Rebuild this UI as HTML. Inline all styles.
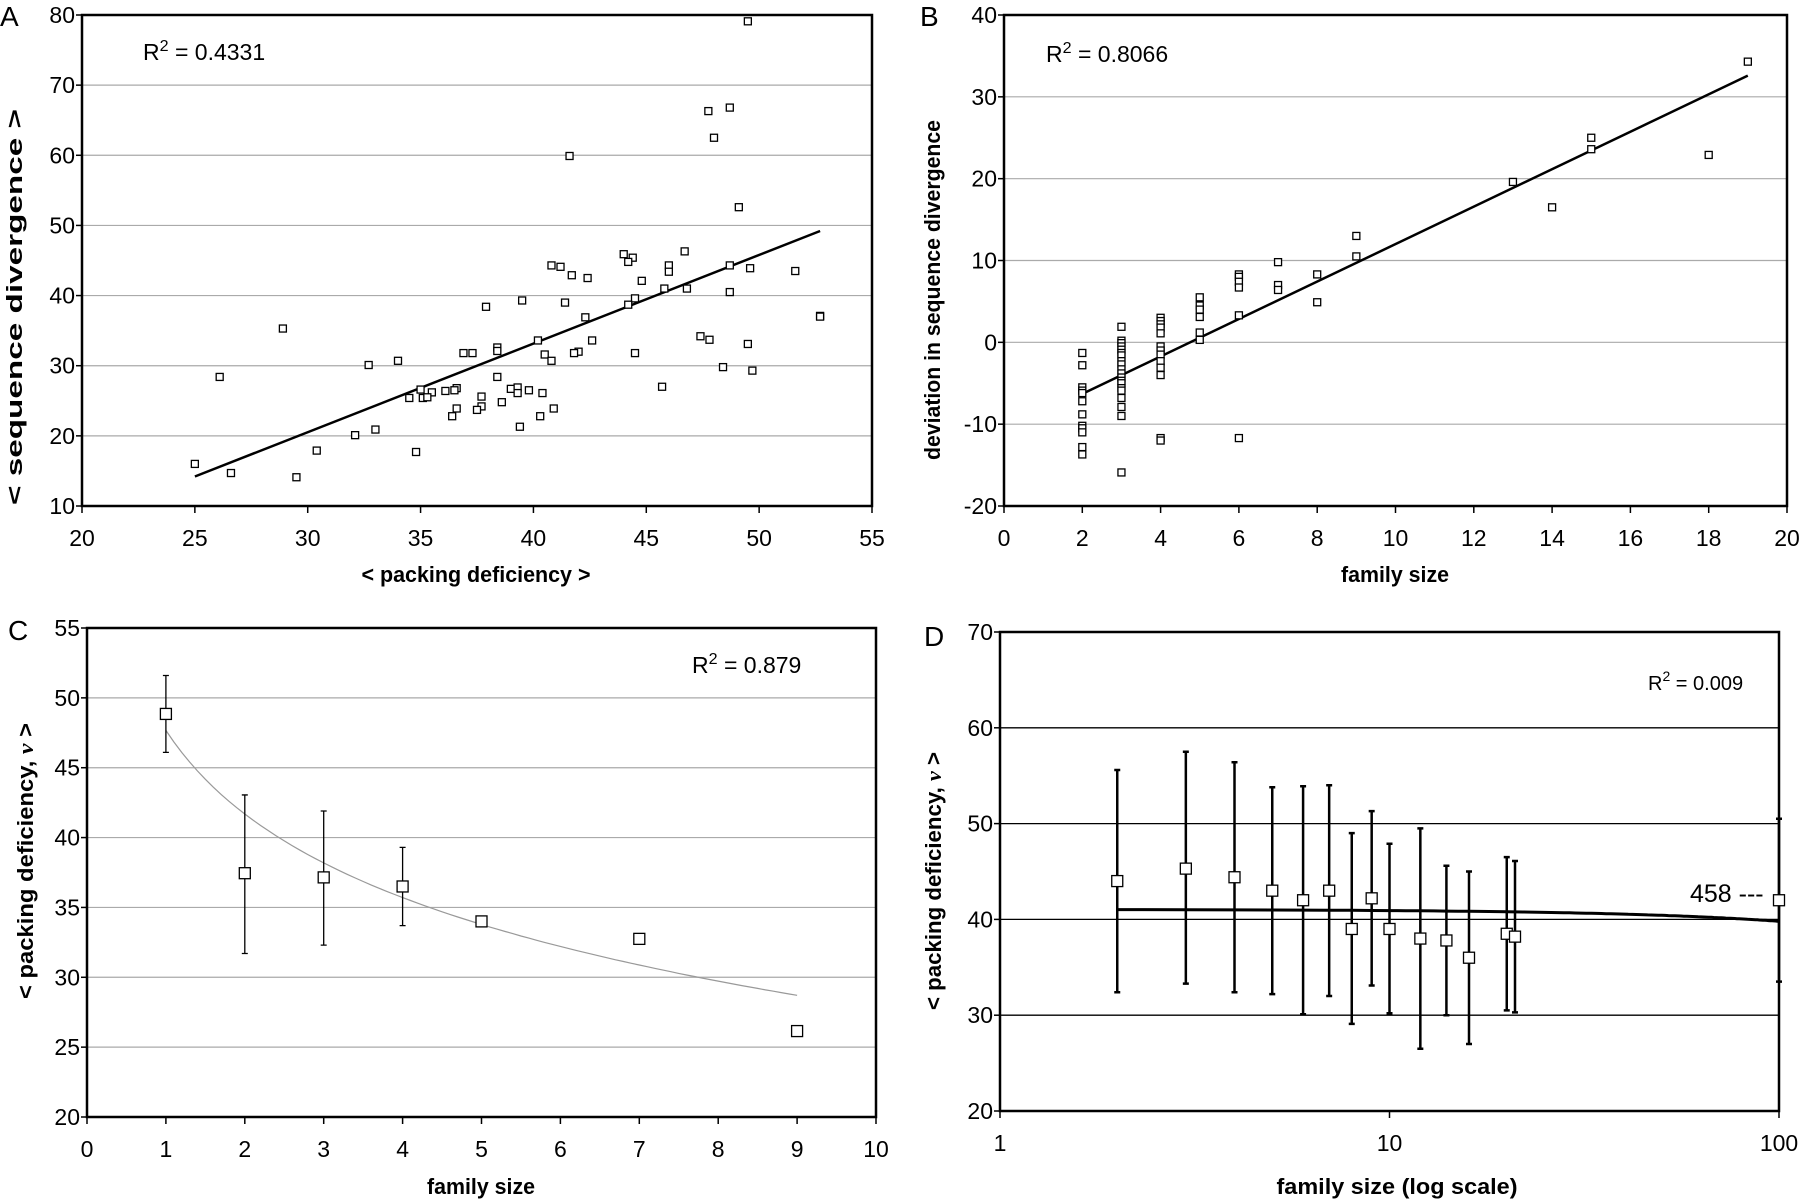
<!DOCTYPE html>
<html><head><meta charset="utf-8">
<style>
html,body{margin:0;padding:0;background:#fff;}
svg{display:block;}
text{font-family:"Liberation Sans Narrow","Liberation Sans",sans-serif;fill:#000;}
.t{font-size:23px;}
.ttl{font-family:"Liberation Sans",sans-serif;font-weight:bold;font-size:22px;}
.pl{font-family:"Liberation Sans",sans-serif;font-size:28px;}
</style></head>
<body>
<svg id="fig" width="1800" height="1203" viewBox="0 0 1800 1203" xmlns="http://www.w3.org/2000/svg"></svg>
<script>
// ---- Panel A data ----
const aX = [49.5,47.75,48.7,48.0,41.6,49.1,46.7,44.0,44.4,44.2,40.8,41.2,46.0,46.0,48.7,49.6,51.6,41.7,42.4,44.8,45.8,46.8,48.7,44.5,44.2,39.5,37.9,41.4,42.3,52.7,52.7,28.9,47.4,47.8,40.2,42.6,49.5,38.4,38.4,42.0,41.8,36.9,37.3,44.5,40.5,40.8,34.0,32.7,48.4,49.7,26.1,38.4,45.7,36.6,36.5,35.0,35.5,36.1,39.0,39.3,39.8,39.3,40.4,34.5,35.1,35.3,37.7,38.6,36.6,37.7,37.5,40.9,36.4,40.3,39.4,32.1,33.0,30.4,34.8,25.0,26.6,29.5];
const aY = [79.1,66.3,66.8,62.5,59.9,52.6,46.3,45.9,45.4,44.8,44.3,44.1,44.3,43.4,44.3,43.9,43.5,42.9,42.5,42.1,41.0,41.0,40.5,39.6,38.7,39.3,38.4,39.0,36.9,37.1,37.0,35.3,34.2,33.7,33.6,33.6,33.1,32.6,32.1,32.0,31.8,31.8,31.8,31.8,31.6,30.7,30.7,30.1,29.8,29.3,28.4,28.4,27.0,26.8,26.5,26.6,26.2,26.4,26.7,26.9,26.5,26.1,26.1,25.4,25.4,25.5,25.6,24.8,23.9,24.2,23.7,23.9,22.8,22.8,21.3,20.1,20.9,17.9,17.7,16.0,14.7,14.1];
const aTrend = [[25,14.2],[52.7,49.2]];
const aXTicks = [20,25,30,35,40,45,50,55];
const aYTicks = [10,20,30,40,50,60,70,80];
// ---- Panel B data ----
const bX = [2,2,2,2,2,2,2,2,2,2,2,2, 3,3,3,3,3,3,3,3,3,3,3,3,3,3,3,3,3,3,3,3, 4,4,4,4,4,4,4,4,4,4,4,4,4, 5,5,5,5,5,5, 6,6,6,6,6,6, 7,7,7, 8,8, 9,9, 13,14,15,15,18,19];
const bY = [-1.3,-2.8,-5.5,-5.9,-6.2,-7.2,-8.8,-10.2,-10.5,-11.0,-12.8,-13.7, 1.9,0.2,-0.1,-0.5,-0.9,-1.3,-1.6,-2.3,-2.7,-3.3,-3.8,-4.3,-4.7,-5.0,-5.6,-5.9,-6.8,-7.9,-9.0,-15.9, 3.0,2.6,2.2,1.8,1.1,-0.5,-1.0,-1.5,-2.3,-3.1,-4.0,-11.7,-12.0, 5.5,4.5,4.0,3.1,1.2,0.3, 8.3,8.0,7.4,6.7,3.3,-11.7, 9.8,7.0,6.4, 8.3,4.9, 13.0,10.5, 19.6,16.5,25.0,23.6,22.9,34.3];
const bTrend = [[2,-6.3],[19,32.6]];
const bXTicks = [0,2,4,6,8,10,12,14,16,18,20];
const bYTicks = [-20,-10,0,10,20,30,40];
// ---- Panel C data ----
const cX = [1,2,3,4,5,7,9];
const cY = [48.85,37.45,37.15,36.5,34.0,32.75,26.15];
const cHi = [51.6,43.05,41.9,39.3,null,null,null];
const cLo = [46.1,31.7,32.3,33.7,null,null,null];
const cFit = [47.67,-8.63]; // a + b ln x
const cXTicks = [0,1,2,3,4,5,6,7,8,9,10];
const cYTicks = [20,25,30,35,40,45,50,55];
// ---- Panel D data ----
const dX = [2,3,4,5,6,7,8,9,10,12,14,16,20,21,100];
const dY = [44.0,45.3,44.4,43.0,42.0,43.0,39.0,42.2,39.0,38.0,37.8,36.0,38.5,38.2,42.0];
const dHi = [55.6,57.5,56.4,53.8,53.9,54.0,49.0,51.3,47.9,49.5,45.6,45.0,46.5,46.1,50.5];
const dLo = [32.4,33.3,32.4,32.2,30.1,32.0,29.1,33.1,30.2,26.5,30.0,27.0,30.5,30.3,33.5];
const dFit = [41.02,-0.0124]; // a + b (x-2)
const dXTicks = [1,10,100];
const dYTicks = [20,30,40,50,60,70];

const NS='http://www.w3.org/2000/svg';
const svg=document.getElementById('fig');
function el(tag,attrs,parent){const e=document.createElementNS(NS,tag);for(const k in attrs)e.setAttribute(k,attrs[k]);(parent||svg).appendChild(e);return e;}
function txt(s,attrs,parent){const e=el('text',attrs,parent);e.textContent=s;return e;}

function panel(cfg){
  const g=el('g',{});
  
  
  const {L,R,T,B}=cfg;
  const sx=cfg.log? v=>L+(Math.log10(v)-Math.log10(cfg.x0))/(Math.log10(cfg.x1)-Math.log10(cfg.x0))*(R-L)
                  : v=>L+(v-cfg.x0)/(cfg.x1-cfg.x0)*(R-L);
  const sy=v=>B-(v-cfg.y0)/(cfg.y1-cfg.y0)*(B-T);
  cfg.yTicks.forEach(v=>{
    const y=sy(v);
    if(v!==cfg.y0 && v!==cfg.y1){
      const l=el('line',{x1:L,x2:R,y1:y,y2:y,stroke:cfg.gridColor,'stroke-width':cfg.gridW},g);
      
      
    }
    el('line',{x1:L-6,x2:L,y1:y,y2:y,stroke:'#000','stroke-width':1.5},g);
    const t=txt(String(v),{x:L-7,y:y+8,'text-anchor':'end',class:'t'},g);
    
    
  });
  cfg.xTicks.forEach(v=>{
    const x=sx(v);
    el('line',{x1:x,x2:x,y1:B,y2:B+7,stroke:'#000','stroke-width':1.5},g);
    const t=txt(String(v),{x:x,y:B+40,'text-anchor':'middle',class:'t'},g);
    
    
  });
  const fr=el('rect',{x:L,y:T,width:R-L,height:B-T,fill:'none',stroke:'#000','stroke-width':2.5},g);
  
  
  if(cfg.trend){
    const pts=cfg.trend.map(p=>sx(p[0]).toFixed(1)+','+sy(p[1]).toFixed(1)).join(' ');
    const pl=el('polyline',{points:pts,fill:'none',stroke:cfg.trendColor,'stroke-width':cfg.trendW},g);
    
    
  }
  if(cfg.hi){
    cfg.xs.forEach((xv,i)=>{
      if(cfg.hi[i]==null)return;
      const x=sx(xv);
      const eb=el('path',{d:`M${x},${sy(cfg.hi[i])}V${sy(cfg.lo[i])}M${x-3},${sy(cfg.hi[i])}h6M${x-3},${sy(cfg.lo[i])}h6`,stroke:'#000','stroke-width':cfg.ebW,fill:'none'},g);
      
      
    });
  }
  const m=cfg.ms;
  cfg.xs.forEach((xv,i)=>{
    const r=el('rect',{x:sx(xv)-m/2,y:sy(cfg.ys[i])-m/2,width:m,height:m,fill:'#fff',stroke:'#000','stroke-width':1.3},g);
    
    
  });
  const xt=txt(cfg.xTitle,{x:cfg.xTitleC,y:cfg.xTitleY,'text-anchor':'middle',class:'ttl',textLength:cfg.xTitleLen,lengthAdjust:'spacingAndGlyphs'},g);
  
  
  const yt=txt('',{transform:`translate(${cfg.yTitleX},${cfg.yTitleC}) rotate(-90)`,'text-anchor':'middle',class:'ttl',textLength:cfg.yTitleLen,lengthAdjust:'spacingAndGlyphs'},g);
  yt.innerHTML=cfg.yTitle;
  
  
  const r2=txt('',{x:cfg.r2x,y:cfg.r2y,class:'t',style:`font-size:${cfg.r2fs}px`},g);
  r2.innerHTML=`R<tspan dy="-9" style="font-size:${cfg.r2fs*0.7}px">2</tspan><tspan dy="9"> = ${cfg.r2}</tspan>`;
  
  
  const pl=txt(cfg.letter,{x:cfg.letX,y:cfg.letY,class:'pl'},g);
  
  
  return {g,sx,sy};
}

panel({name:'panel-a',L:82,R:872,T:15,B:506,x0:20,x1:55,y0:10,y1:80,xTicks:aXTicks,yTicks:aYTicks,
  gridColor:'#aaa',gridW:1.2,xs:aX,ys:aY,trend:aTrend,trendColor:'#000',trendW:2.5,ms:7,
  xTitle:'< packing deficiency >',xTitleC:476,xTitleY:582,xTitleLen:229,yTitle:'< sequence divergence >',yTitleX:22,yTitleC:307,yTitleLen:396,
  r2:'0.4331',r2x:143,r2y:60,r2fs:23,letter:'A',letX:0,letY:26});

panel({name:'panel-b',L:1004,R:1787,T:15,B:506,x0:0,x1:20,y0:-20,y1:40,xTicks:bXTicks,yTicks:bYTicks,
  gridColor:'#aaa',gridW:1.2,xs:bX,ys:bY,trend:bTrend,trendColor:'#000',trendW:2.5,ms:7,
  xTitle:'family size',xTitleC:1395,xTitleY:582,xTitleLen:108,yTitle:'deviation in sequence divergence',yTitleX:940,yTitleC:290,yTitleLen:340,
  r2:'0.8066',r2x:1046,r2y:62,r2fs:23,letter:'B',letX:920,letY:26});

const cTrend=[];
for(let x=1;x<=9.0001;x+=0.1){cTrend.push([x,cFit[0]+cFit[1]*Math.log(x)]);}
panel({name:'panel-c',L:87,R:876,T:628,B:1117,x0:0,x1:10,y0:20,y1:55,xTicks:cXTicks,yTicks:cYTicks,
  gridColor:'#aaa',gridW:1.2,xs:cX,ys:cY,hi:cHi,lo:cLo,ebW:1.3,trend:cTrend,trendColor:'#999',trendW:1.2,ms:11,
  xTitle:'family size',xTitleC:481,xTitleY:1194,xTitleLen:108,yTitle:'&lt; packing deficiency,  <tspan font-style="italic" font-family="Liberation Serif">ν</tspan> &gt;',yTitleX:33,yTitleC:861,yTitleLen:276,
  r2:'0.879',r2x:692,r2y:673,r2fs:23,letter:'C',letX:8,letY:640});

const dTrend=[];
for(let x=2;x<=100;x+=1){dTrend.push([x,dFit[0]+dFit[1]*(x-2)]);}
panel({name:'panel-d',L:1000,R:1779,T:632,B:1111,x0:1,x1:100,log:true,y0:20,y1:70,xTicks:dXTicks,yTicks:dYTicks,
  gridColor:'#000',gridW:1.3,xs:dX,ys:dY,hi:dHi,lo:dLo,ebW:2.5,trend:dTrend,trendColor:'#000',trendW:3,ms:11,
  xTitle:'family size (log scale)',xTitleC:1397,xTitleY:1194,xTitleLen:241,yTitle:'&lt; packing deficiency,  <tspan font-style="italic" font-family="Liberation Serif">ν</tspan> &gt;',yTitleX:941,yTitleC:881,yTitleLen:258,
  r2:'0.009',r2x:1648,r2y:690,r2fs:20,letter:'D',letX:924,letY:646});

const lab=txt('458 ---',{x:1690,y:902,class:'t',style:'font-size:25px'});


</script>
</body></html>
